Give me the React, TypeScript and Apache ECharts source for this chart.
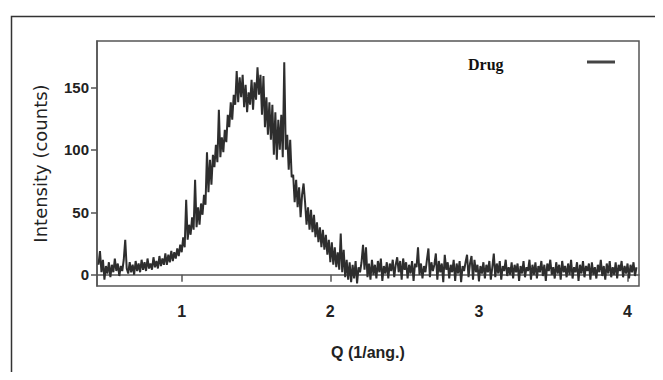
import React, { useEffect, useRef } from "react";
import * as echarts from "echarts";

const seriesName = "Drug";
const qStart = 0.44;
const qStep = 0.01;
const intensity: number[] = [
  8, 19, 2, 12, -4, 7,
  1, 10, -2, 8, 2, 13, 3, 9, -1, 7,
  3, 12, 28, 5, 1, 10, 2, 8, 0, 11,
  3, 9, 2, 12, 4, 10, 3, 13, 5, 9,
  4, 14, 6, 11, 5, 15, 7, 13, 8, 17,
  8, 16, 10, 19, 11, 18, 13, 21, 15, 24,
  18, 30, 22, 60, 28, 40, 32, 46, 36, 76,
  38, 54, 40, 57, 48, 64, 56, 98, 66, 92,
  72, 96, 86, 104, 90, 132, 94, 110, 98, 116,
  106, 128, 118, 138, 124, 144, 136, 163, 138, 158,
  142, 160, 134, 152, 130, 146, 136, 156, 132, 154,
  140, 166, 144, 160, 128, 159, 118, 142, 112, 138,
  108, 136, 96, 130, 92, 124, 100, 128, 94, 170,
  100, 112, 84, 108, 78, 80, 58, 76, 54, 70,
  46, 64, 73, 58, 40, 54, 36, 52, 34, 48,
  30, 42, 26, 38, 22, 36, 20, 32, 16, 28,
  10, 26, 8, 22, 6, 18, 4, 33, 2, 20,
  -2, 12, -4, 10, -6, 8, -3, 11, -7, 6,
  2, 10, 24, 4, 22, -2, 9, -4, 12, 0,
  8, -3, 11, 2, 13, -5, 7, 1, 10, -3,
  9, 3, 12, -2, 8, 14, 2, 11, -4, 13,
  4, 10, -3, 8, 1, 11, -5, 9, 6, 22,
  0, 9, -3, 7, 2, 12, 21, -2, 10, 3,
  8, 17, -4, 11, 2, 9, -6, 16, 4, 10,
  -3, 8, 2, 12, -5, 9, 1, 11, -6, 7,
  3, 10, 16, -2, 9, 15, -4, 12, 2, 8,
  -5, 7, 1, 10, -3, 8, 2, 11, -4, 6,
  17, -2, 9, 1, 11, -4, 7, 3, 12, -1,
  6, 0, 10, -3, 8, 2, 9, -5, 7, 1,
  11, -2, 6, 3, 12, -4, 8, 0, 10, -3,
  7, 2, 11, -1, 8, -5, 9, 3, 12, 0,
  6, -3, 10, 1, 8, -4, 11, 2, 7, -2,
  9, 0, 12, -3, 6, 2, 10, -5, 8, 1,
  11, -2, 7, 3, 9, -4, 10, 0, 6, -3,
  8, 2, 12, -1, 7, -4, 9, 1, 11, -2,
  6, 0, 10, -3, 8, 3, 11, -2, 7, 1,
  9, -3, 8, 2, 10, -1, 6,
];
const xTicks = [1, 2, 3, 4];
const yTicks = [0, 50, 100, 150];
const xTitle = "Q (1/ang.)";
const yTitle = "Intensity (counts)";

const narrow = "'Liberation Sans Narrow', 'Arial Narrow', 'Liberation Sans', Arial, sans-serif";

export default function App() {
  const ref = useRef<HTMLDivElement>(null);
  useEffect(() => {
    if (!ref.current) return;
    const chart = echarts.init(ref.current, null, { renderer: "svg" });
    const data = intensity.map((v, i) => [+(qStart + i * qStep).toFixed(2), v]);
    chart.setOption({
      animation: false,
      backgroundColor: "#ffffff",
      grid: {
        left: 97,
        right: 24,
        top: 41,
        bottom: 94,
        show: true,
        borderColor: "#555",
        borderWidth: 1.5,
        backgroundColor: "transparent",
      },
      xAxis: {
        type: "value",
        min: 0.43,
        max: 4.077,
        name: xTitle,
        nameLocation: "middle",
        nameGap: 58,
        nameTextStyle: { fontFamily: narrow, fontSize: 16, fontWeight: "bold", color: "#222" },
        axisLine: { show: true, lineStyle: { color: "#555", width: 1.5 } },
        axisTick: { show: true, length: 7, customValues: xTicks, lineStyle: { color: "#555", width: 1.5 } },
        axisLabel: { customValues: xTicks, margin: 17, fontFamily: narrow, fontSize: 16, fontWeight: "bold", color: "#222" },
        splitLine: { show: false },
      },
      yAxis: {
        type: "value",
        min: -9,
        max: 187,
        name: yTitle,
        nameLocation: "middle",
        nameGap: 48,
        nameRotate: 90,
        nameTextStyle: { fontFamily: "'DejaVu Sans', sans-serif", fontSize: 18, color: "#222" },
        axisLine: { show: true, lineStyle: { color: "#555", width: 1.5 } },
        axisTick: { show: true, length: 6, customValues: yTicks, lineStyle: { color: "#555", width: 1.5 } },
        axisLabel: { customValues: yTicks, margin: 8, fontFamily: narrow, fontSize: 15, fontWeight: "bold", color: "#222" },
        splitLine: { show: false },
      },
      series: [
        {
          name: seriesName,
          type: "line",
          data,
          showSymbol: false,
          lineStyle: { color: "#2e2e2e", width: 2 },
          itemStyle: { color: "#2e2e2e" },
        },
      ],
      graphic: [
        {
          type: "rect",
          left: 9,
          top: 14,
          shape: { width: 700, height: 420 },
          style: { fill: "none", stroke: "#333", lineWidth: 1.5 },
          silent: true,
        },
        {
          type: "text",
          left: 468,
          top: 56,
          style: {
            text: seriesName,
            font: "bold 16px 'Liberation Serif', 'Times New Roman', serif",
            fill: "#111",
          },
        },
        {
          type: "line",
          shape: { x1: 587, y1: 62, x2: 615, y2: 62 },
          style: { stroke: "#444", lineWidth: 3 },
        },
      ],
    });
    return () => chart.dispose();
  }, []);
  return <div ref={ref} style={{ width: 663, height: 380, margin: -8 }} />;
}
